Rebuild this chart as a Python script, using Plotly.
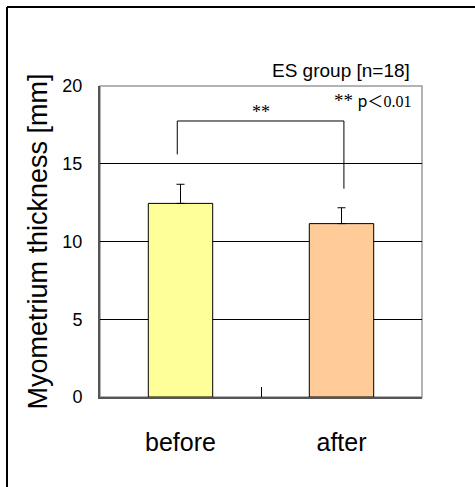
import plotly.graph_objects as go

categories = ["before", "after"]
means = [12.45, 11.15]
sd_upper = [1.23, 1.02]
bar_colors = ["#FFFF99", "#FFCC99"]
y_ticks = [0, 5, 10, 15, 20]

# significance bracket (data units)
bracket_top = 17.75
bracket_left_end = 15.6
bracket_right_end = 13.4

fig = go.Figure()
fig.add_trace(go.Bar(
    x=categories, y=means,
    marker=dict(color=bar_colors, line=dict(color="black", width=1)),
    error_y=dict(type="data", array=sd_upper, arrayminus=[0, 0], symmetric=False,
                 color="black", thickness=1, width=4),
    showlegend=False,
))

W, H = 475, 487
L, T = 100, 86
R, B = W - 422, H - 397
pw, ph = W - L - R, H - T - B

def px(x):
    return (x - L) / pw

def py(y):
    return (H - B - y) / ph

shapes = [
    # plot frame (top/right gray)
    dict(type="rect", xref="paper", yref="paper", x0=0, x1=1, y0=0, y1=1,
         line=dict(color="#9a9a9a", width=1.5), layer="below"),
    # bracket
    dict(type="line", xref="x", yref="y", x0=-0.02, x1=-0.02, y0=bracket_left_end, y1=bracket_top,
         line=dict(color="black", width=1)),
    dict(type="line", xref="x", yref="y", x0=-0.02, x1=1.015, y0=bracket_top, y1=bracket_top,
         line=dict(color="black", width=1)),
    dict(type="line", xref="x", yref="y", x0=1.015, x1=1.015, y0=bracket_top, y1=bracket_right_end,
         line=dict(color="black", width=1)),
    # outer frame
    dict(type="line", xref="paper", yref="paper", x0=px(7), x1=px(7), y0=py(7), y1=py(487),
         line=dict(color="black", width=2)),
    dict(type="line", xref="paper", yref="paper", x0=px(7), x1=px(475), y0=py(7), y1=py(7),
         line=dict(color="black", width=2)),
]

serif = "Liberation Serif, Times New Roman, serif"
annotations = [
    dict(text="ES group [n=18]", xref="paper", yref="paper", x=px(412), y=py(70),
         xanchor="right", yanchor="middle", showarrow=False,
         font=dict(size=19, color="black", family="Liberation Sans, Arial, sans-serif")),
    dict(text="<span style='font-family:Liberation Serif;font-size:19px'>**</span> "
              "<span style='font-family:Noto Sans CJK JP'>p＜</span>"
              "<span style='font-family:Liberation Serif'>0.01</span>",
         xref="paper", yref="paper", x=px(413), y=py(100),
         xanchor="right", yanchor="middle", showarrow=False,
         font=dict(size=16, color="black", family="Liberation Sans, Arial, sans-serif")),
    dict(text="**", xref="x", yref="y", x=0.5, y=18.3, xanchor="center", yanchor="middle",
         showarrow=False, font=dict(size=18, color="black", family=serif)),
]

fig.update_layout(
    width=W, height=H,
    margin=dict(l=L, r=R, t=T, b=B, autoexpand=False),
    paper_bgcolor="white", plot_bgcolor="white",
    bargap=0.6,
    font=dict(family="Liberation Sans, Arial, sans-serif", color="black"),
    shapes=shapes, annotations=annotations,
    xaxis=dict(
        showline=True, linecolor="#555555", linewidth=2,
        ticks="inside", tickson="boundaries", ticklen=10, tickcolor="black", tickwidth=1,
        tickfont=dict(size=25, color="black"), ticklabelstandoff=22,
        showgrid=False, zeroline=False,
    ),
    yaxis=dict(
        range=[0, 20], tickvals=y_ticks,
        showline=True, linecolor="#555555", linewidth=2,
        ticks="inside", ticklen=8, tickcolor="black", tickwidth=1,
        tickfont=dict(size=18, color="black"), ticklabelstandoff=12,
        showgrid=True, gridcolor="black", gridwidth=1, zeroline=False,
        title=dict(text="Myometrium thickness [mm]", font=dict(size=27, color="black"), standoff=7),
        automargin=False,
    ),
)

fig.write_html("out.html", config={"displayModeBar": False},
               post_script="document.body.style.margin='0';document.body.style.overflow='hidden';")
